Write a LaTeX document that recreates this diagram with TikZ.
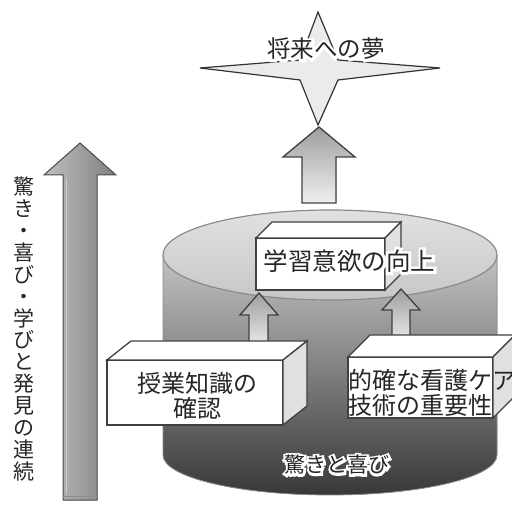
\documentclass[tikz,border=0pt]{standalone}
\usepackage{fontspec}
\setmainfont{Noto Sans CJK JP}
\newfontfamily\jphalo[FakeBold=22]{Noto Sans CJK JP}
\usetikzlibrary{calc}
\tikzset{
  outl/.style={draw=black!75, line width=1.3pt, line join=miter},
  jtext/.style={inner sep=0pt, text=black!85},
  arrowfill/.style={outl, top color=black!38, bottom color=black!6},
}
\newcommand\cubebox[6]{% x1,y1,x2,y2,dx,dy
  \filldraw[outl, fill=white] (#1,#2) rectangle (#3,#4);
  \filldraw[outl, fill=white] (#1,#2) -- ({#1+#5},{#2+#6}) -- ({#3+#5},{#2+#6}) -- (#3,#2) -- cycle;
  \filldraw[outl, fill=black!12] (#3,#2) -- ({#3+#5},{#2+#6}) -- ({#3+#5},{#4+#6}) -- (#3,#4) -- cycle;
}
\newcommand\halonode[4]{% name, at, fontsize, text
  \node[jtext, text=white, font=\jphalo#3] at (#2) {#4};
  \node[jtext, font=#3] (#1) at (#2) {#4};
}
\begin{document}
\begin{tikzpicture}[x=1pt,y=-1pt]
\useasboundingbox (0,0) rectangle (512,505);
\clip (0,0) rectangle (512,505);

% left big arrow
\filldraw[draw=black!70, line width=1pt, left color=black!25, right color=black!50]
  (63,500) -- (63,175) -- (44,175) -- (80,143) -- (116,175) -- (97,175) -- (97,500) -- cycle;
\draw[black!45, line width=1pt] (63,496) -- (97,496);
\draw[white!80!black, line width=0.8pt] (66,178) -- (66,494);

% vertical text
\node[jtext, align=center, font=\fontsize{21}{21.9}\selectfont] (vert) at (24,329)
  {驚\\き\\・\\喜\\び\\・\\学\\び\\と\\発\\見\\の\\連\\続};

% cylinder body
\filldraw[draw=black!45, line width=0.8pt, top color=black!24, bottom color=black!78]
  (163,255) -- (163,455) arc[start angle=180, end angle=0, x radius=167, y radius=40]
  -- (497,255) -- cycle;
% cylinder top
\filldraw[draw=black!45, line width=1.2pt, top color=black!12, bottom color=black!22]
  (330,255) ellipse [x radius=167, y radius=45];

% top arrow
\filldraw[arrowfill]
  (302,203) -- (302,157) -- (283,157) -- (319,127) -- (355,157) -- (336,157) -- (336,203) -- cycle;

% star
\filldraw[draw=black!80, line width=1.2pt, fill=black!8]
  (318,12) -- (338,60) -- (440,68) -- (338,80) -- (318,125) -- (300,80) -- (200,68) -- (300,60) -- cycle;
\halonode{dream}{326,49}{\fontsize{23.5}{24}\selectfont}{将来への夢}

% small arrows
\filldraw[arrowfill]
  (249,350) -- (249,315) -- (240,315) -- (259,293) -- (278,315) -- (268,315) -- (268,350) -- cycle;
\filldraw[arrowfill]
  (392,345) -- (392,310) -- (382,310) -- (401,289) -- (420,310) -- (410,310) -- (410,345) -- cycle;

% middle box
\cubebox{256}{238}{385}{290}{16}{-16}
\halonode{motiv}{349.5,261}{\fontsize{24.5}{25}\selectfont}{学習意欲の向上}

% left box
\cubebox{107}{360}{283}{425}{24}{-19}
\node[jtext, align=center, font=\fontsize{24}{25}\selectfont] (know) at (197,396) {授業知識の\\確認};

% right box
\cubebox{348}{357}{493}{418}{22}{-22}
\node[jtext, align=left, anchor=west, font=\fontsize{24}{25}\selectfont] (care) at (348,393) {的確な看護ケア\\技術の重要性};

% bottom label
\halonode{joy}{337,465}{\fontsize{21}{22}\selectfont}{驚きと喜び}
\end{tikzpicture}
\end{document}
